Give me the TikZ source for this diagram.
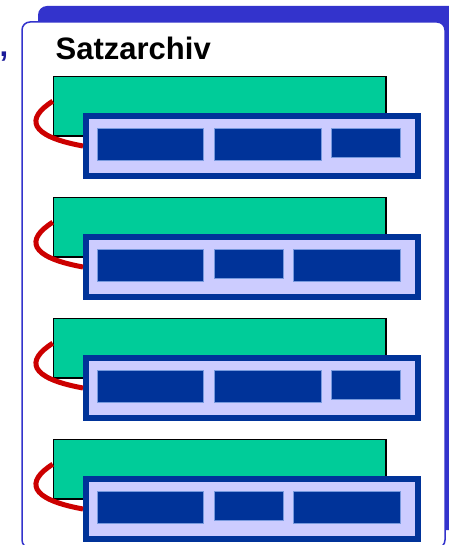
\documentclass[tikz,border=0pt]{standalone}
\usepackage{fontspec}
\setmainfont{Liberation Sans}
\usetikzlibrary{positioning}

\definecolor{tabblue}{HTML}{3333CC}
\definecolor{recgreen}{HTML}{00CC99}
\definecolor{fielddark}{HTML}{003399}
\definecolor{fieldedge}{HTML}{7799DD}
\definecolor{panellight}{HTML}{CCCCFF}
\definecolor{linkred}{HTML}{CC0000}
\definecolor{commablue}{HTML}{1A1A99}

\begin{document}
\begin{tikzpicture}[x=1pt,y=-1pt,
	card/.style={rectangle, draw=black, line width=1.5pt, fill=recgreen, inner sep=0,
		minimum width=332.5pt, minimum height=59.5pt, anchor=north west},
	panel/.style={rectangle, draw=fielddark, line width=6pt, fill=panellight, inner sep=0,
		minimum width=332pt, minimum height=60pt, anchor=north west},
	field/.style={rectangle, draw=fieldedge, line width=0.8pt, fill=fielddark, inner sep=0,
		minimum height=#1, anchor=north west},
	link/.style={draw=linkred, line width=5pt},
	bigtext/.style={font=\bfseries\fontsize{31}{36}\selectfont, inner sep=0, anchor=base west}]
		\useasboundingbox (0,0) rectangle (448,545);

		% folder tab and frame
		\fill[tabblue, rounded corners=9pt] (38,6) rectangle (470,530);
		\draw[tabblue, fill=white, line width=1.5pt, rounded corners=8pt] (22,22) rectangle (445,548);

		\node[bigtext, text=commablue] (comma) at (-0.5,57) {,};
		\node[bigtext] (title) at (55.5,59.5) {Satzarchiv};

		% four records, each a card with its field panel
		\foreach \g/\mw/\mh/\rx/\rw/\rh [count=\i] in
			{75/108/32/331/70/29, 196/70/29/293/108/32, 317/108/32/331/70/29, 438/70/29/293/108/32}{
			\node[card] (card\i) at (52.75,\g+0.75) {};
			\node[panel] (panel\i) at (83,\g+38) {};
			\draw[link] ([yshift=5pt]card\i.west) .. controls +(-27,17) and +(-55,-10) .. (panel\i.west);
			\node[field=32pt, minimum width=106pt] (fa\i) at (97.4,\g+53) {};
			\node[field=\mh pt, minimum width=\mw pt-1pt] (fb\i) at (214.4,\g+53) {};
			\node[field=\rh pt, minimum width=\rw pt-1pt] (fc\i) at (\rx+0.4,\g+53) {};
		}
	\end{tikzpicture}
\end{document}
